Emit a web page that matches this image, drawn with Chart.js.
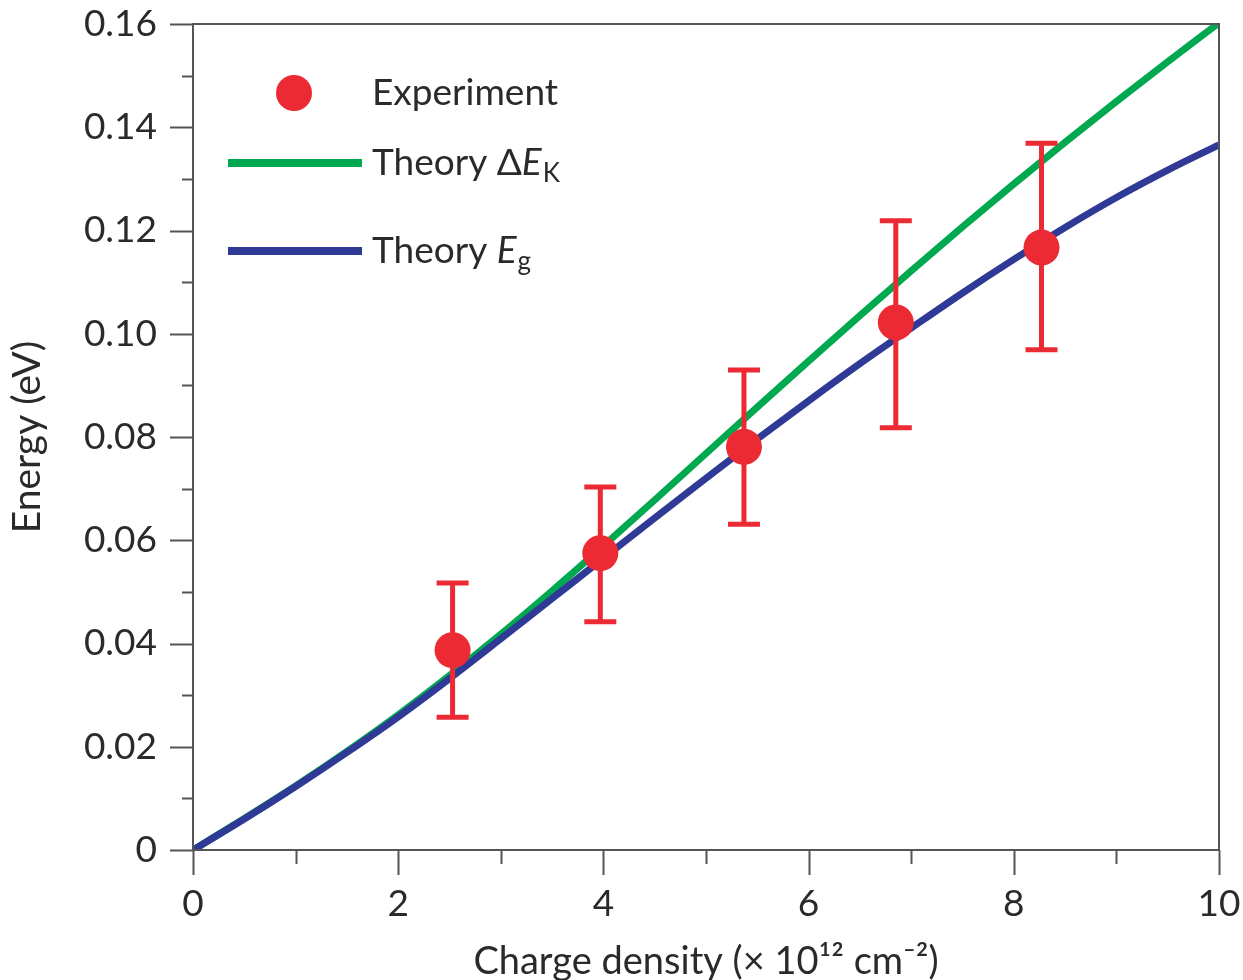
<!DOCTYPE html>
<html lang="en">
<head>
  <meta charset="UTF-8" />
  <title>Energy vs charge density</title>
  <script src="https://cdn.jsdelivr.net/npm/chart.js"></script>
  <style>
    body {
      margin: 0;
      background: #ffffff;
      overflow: hidden;
    }
    #wrap {
      width: 1243px;
      height: 980px;
    }
  </style>
</head>
<body>
  <div id="wrap"><canvas id="plot"></canvas></div>

  <script>
    // Theory curves, sampled every 0.5 x 10^12 cm^-2
    const density = [0, 0.5, 1, 1.5, 2, 2.5, 3, 3.5, 4, 4.5, 5, 5.5, 6, 6.5, 7, 7.5, 8, 8.5, 9, 9.5, 10];
    const deltaEK = [0, 0.0061, 0.0124, 0.0191, 0.0262, 0.0338, 0.0418, 0.0502, 0.0589, 0.0678, 0.0768,
                     0.0858, 0.0947, 0.1035, 0.1122, 0.1207, 0.1290, 0.1371, 0.1450, 0.1527, 0.1602];
    const gapEg   = [0, 0.0060, 0.0123, 0.0189, 0.0258, 0.0332, 0.0409, 0.0487, 0.0565, 0.0643, 0.0720,
                     0.0796, 0.0870, 0.0942, 0.1011, 0.1079, 0.1144, 0.1206, 0.1264, 0.1317, 0.1366];

    // Measured points with error bars
    const expDensity = [2.53, 3.97, 5.37, 6.85, 8.27];
    const expEnergy  = [0.0387, 0.0575, 0.0781, 0.1022, 0.1167];
    const expLow     = [0.0257, 0.0442, 0.0631, 0.0818, 0.0969];
    const expHigh    = [0.0517, 0.0703, 0.0930, 0.1219, 0.1369];

    const yMajor = [0, 0.02, 0.04, 0.06, 0.08, 0.10, 0.12, 0.14, 0.16];
    const yMinor = [0.01, 0.03, 0.05, 0.07, 0.09, 0.11, 0.13, 0.15];
    const xMajor = [0, 2, 4, 6, 8, 10];
    const xMinor = [1, 3, 5, 7, 9];

    const RED = "#ec2a33";
    const GREEN = "#00a94f";
    const BLUE = "#2f3a96";
    const AXIS = "#555555";
    const TEXT = "#2a2a2a";
    const FONT = "Lato, 'Open Sans', sans-serif";

    const toXY = (xs, ys) => xs.map((x, i) => ({ x: x, y: ys[i] }));

    // Box frame plus outside ticks (major and minor)
    const framePlugin = {
      id: "frame",
      afterDraw(chart) {
        const { ctx, chartArea: a, scales } = chart;
        const xs = scales.x, ys = scales.y;
        ctx.save();
        ctx.strokeStyle = AXIS;
        ctx.lineWidth = 2;
        ctx.strokeRect(a.left, a.top, a.right - a.left, a.bottom - a.top);
        ctx.beginPath();
        yMajor.forEach(v => {
          const p = Math.round(ys.getPixelForValue(v)) + 0.5;
          ctx.moveTo(a.left - 23, p); ctx.lineTo(a.left, p);
        });
        yMinor.forEach(v => {
          const p = Math.round(ys.getPixelForValue(v)) + 0.5;
          ctx.moveTo(a.left - 11, p); ctx.lineTo(a.left, p);
        });
        xMajor.forEach(v => {
          const p = Math.round(xs.getPixelForValue(v)) + 0.5;
          ctx.moveTo(p, a.bottom); ctx.lineTo(p, a.bottom + 25);
        });
        xMinor.forEach(v => {
          const p = Math.round(xs.getPixelForValue(v)) + 0.5;
          ctx.moveTo(p, a.bottom); ctx.lineTo(p, a.bottom + 14);
        });
        ctx.stroke();
        ctx.restore();
      }
    };

    // Vertical error bars with caps, drawn under the markers
    const errorBarPlugin = {
      id: "errorBars",
      afterDatasetDraw(chart, args) {
        if (args.index !== 0) return;
        const { ctx, scales } = chart;
        ctx.save();
        ctx.strokeStyle = RED;
        ctx.lineWidth = 5;
        ctx.lineCap = "butt";
        expDensity.forEach((x, i) => {
          const px = scales.x.getPixelForValue(x);
          const lo = scales.y.getPixelForValue(expLow[i]);
          const hi = scales.y.getPixelForValue(expHigh[i]);
          ctx.beginPath();
          ctx.moveTo(px, lo); ctx.lineTo(px, hi);
          ctx.moveTo(px - 16, lo); ctx.lineTo(px + 16, lo);
          ctx.moveTo(px - 16, hi); ctx.lineTo(px + 16, hi);
          ctx.stroke();
        });
        ctx.restore();
      }
    };

    // Legend in the upper-left corner of the plot
    const legendPlugin = {
      id: "cornerLegend",
      afterDraw(chart) {
        const { ctx, chartArea: a } = chart;
        const x0 = a.left + 35, x1 = a.left + 169, tx = a.left + 179;
        const rows = [a.top + 69, a.top + 139, a.top + 227];
        ctx.save();
        ctx.textBaseline = "middle";

        ctx.fillStyle = RED;
        ctx.beginPath();
        ctx.arc(a.left + 101, rows[0], 18, 0, Math.PI * 2);
        ctx.fill();

        ctx.lineWidth = 8;
        ctx.strokeStyle = GREEN;
        ctx.beginPath(); ctx.moveTo(x0, rows[1]); ctx.lineTo(x1, rows[1]); ctx.stroke();
        ctx.strokeStyle = BLUE;
        ctx.beginPath(); ctx.moveTo(x0, rows[2]); ctx.lineTo(x1, rows[2]); ctx.stroke();

        ctx.fillStyle = TEXT;
        ctx.font = "37px " + FONT;
        ctx.fillText("Experiment", tx, rows[0]);

        let w = tx;
        ctx.fillText("Theory \u0394", w, rows[1]);
        w += ctx.measureText("Theory \u0394").width;
        ctx.font = "italic 37px " + FONT;
        ctx.fillText("E", w, rows[1]);
        w += ctx.measureText("E").width + 1;
        ctx.font = "26px " + FONT;
        ctx.fillText("K", w, rows[1] + 11);

        ctx.font = "37px " + FONT;
        w = tx;
        ctx.fillText("Theory ", w, rows[2]);
        w += ctx.measureText("Theory ").width;
        ctx.font = "italic 37px " + FONT;
        ctx.fillText("E", w, rows[2]);
        w += ctx.measureText("E").width + 1;
        ctx.font = "26px " + FONT;
        ctx.fillText("g", w, rows[2] + 11);
        ctx.restore();
      }
    };

    Chart.defaults.font.family = FONT;
    Chart.defaults.color = TEXT;

    new Chart(document.getElementById("plot"), {
      type: "scatter",
      data: {
        datasets: [
          {
            label: "Experiment",
            data: toXY(expDensity, expEnergy),
            pointRadius: 18,
            pointHoverRadius: 18,
            pointBackgroundColor: RED,
            pointBorderWidth: 0,
            order: 1
          },
          {
            label: "Theory Eg",
            data: toXY(density, gapEg),
            showLine: true,
            borderColor: BLUE,
            borderWidth: 7,
            pointRadius: 0,
            cubicInterpolationMode: "monotone",
            order: 2
          },
          {
            label: "Theory \u0394EK",
            data: toXY(density, deltaEK),
            showLine: true,
            borderColor: GREEN,
            borderWidth: 7,
            pointRadius: 0,
            cubicInterpolationMode: "monotone",
            order: 3
          }
        ]
      },
      options: {
        responsive: true,
        maintainAspectRatio: false,
        animation: false,
        layout: { padding: { top: 24, right: 24, left: 0, bottom: 0 } },
        plugins: {
          legend: { display: false },
          tooltip: { enabled: false }
        },
        scales: {
          x: {
            type: "linear",
            min: 0,
            max: 10,
            grid: { display: false },
            border: { display: false },
            ticks: {
              stepSize: 2,
              padding: 24,
              font: { size: 37 },
              color: TEXT
            },
            title: {
              display: true,
              text: "Charge density (\u00d7 10\u00b9\u00b2 cm\u207b\u00b2)",
              font: { size: 38 },
              color: TEXT,
              padding: { top: 14, bottom: -5 }
            },
            afterFit(scale) {
              scale.height = 130;
              scale.paddingLeft = 0;
              scale.paddingRight = 0;
            }
          },
          y: {
            type: "linear",
            min: 0,
            max: 0.16,
            grid: { display: false },
            border: { display: false },
            ticks: {
              stepSize: 0.02,
              padding: 28,
              font: { size: 37 },
              color: TEXT,
              callback: v => (Math.abs(v) < 1e-9 ? "0" : v.toFixed(2))
            },
            title: {
              display: true,
              text: "Energy (eV)",
              font: { size: 39 },
              color: TEXT,
              padding: { bottom: 4 }
            },
            afterFit(scale) {
              scale.width = 193;
              scale.paddingTop = 0;
              scale.paddingBottom = 0;
            }
          }
        }
      },
      plugins: [errorBarPlugin, framePlugin, legendPlugin]
    });
  </script>
</body>
</html>
